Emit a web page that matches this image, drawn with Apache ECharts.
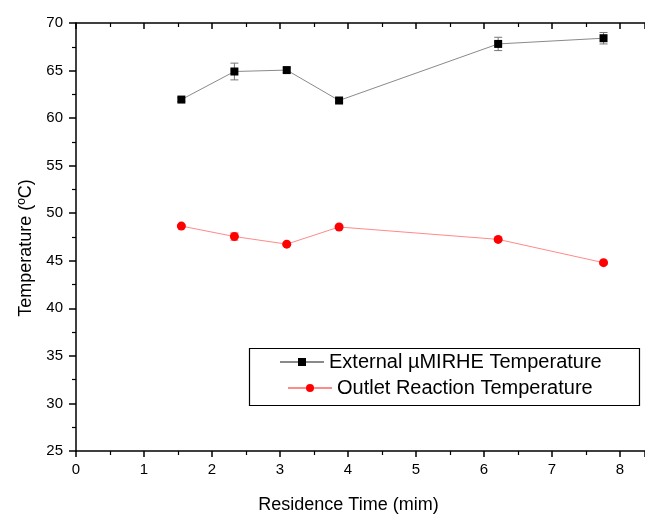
<!DOCTYPE html>
<html><head><meta charset="utf-8">
<script src="https://cdn.jsdelivr.net/npm/echarts@6/dist/echarts.min.js"></script>
<style>html,body{margin:0;padding:0;background:#fff}#c{width:645px;height:514px}</style>
</head><body><div id="c"></div>
<script>
const residenceTime = [1.55, 2.33, 3.10, 3.87, 6.21, 7.76];
const externalTemp = [61.95, 64.9, 65.05, 61.85, 67.8, 68.4];
const externalErr = [0.2, 0.88, 0.25, 0.2, 0.7, 0.6];
const outletTemp = [48.65, 47.55, 46.75, 48.55, 47.25, 44.8];
const outletErr = [0.15, 0.4, 0.15, 0.15, 0.15, 0.15];
const seriesNames = ['External µMIRHE Temperature', 'Outlet Reaction Temperature'];
const xTicks = [0, 1, 2, 3, 4, 5, 6, 7, 8];
const yTicks = [25, 30, 35, 40, 45, 50, 55, 60, 65, 70];

const FONT = 'Liberation Sans, Arial, sans-serif';
const chart = echarts.init(document.getElementById('c'), null, {renderer: 'canvas'});

function errData(xs, ys, es) {
  return xs.map((x, i) => [x, ys[i] - es[i], ys[i] + es[i]]);
}
function errRender(color) {
  return function (params, api) {
    const x = api.value(0);
    const lo = api.coord([x, api.value(1)]);
    const hi = api.coord([x, api.value(2)]);
    const w = 4;
    const st = {stroke: color, lineWidth: 1};
    return {type: 'group', children: [
      {type: 'line', shape: {x1: lo[0], y1: lo[1], x2: hi[0], y2: hi[1]}, style: st},
      {type: 'line', shape: {x1: lo[0]-w, y1: lo[1], x2: lo[0]+w, y2: lo[1]}, style: st},
      {type: 'line', shape: {x1: hi[0]-w, y1: hi[1], x2: hi[0]+w, y2: hi[1]}, style: st}
    ]};
  };
}

const axisLine = {show: true, lineStyle: {color: '#000', width: 1.5}};
chart.setOption({
  animation: false,
  backgroundColor: '#fff',
  grid: {left: 76, top: 23, right: 0, bottom: 63, containLabel: false, outerBoundsMode: 'none'},
  xAxis: [{
    type: 'value', min: 0, max: 8.37, interval: 1, position: 'bottom',
    axisLine: Object.assign({onZero: false}, axisLine),
    axisTick: {show: true, inside: false, length: 6, lineStyle: {color: '#000', width: 1.5}},
    minorTick: {show: true, splitNumber: 2, length: 4, lineStyle: {color: '#000', width: 1.2}},
    splitLine: {show: false},
    axisLabel: {margin: 11, fontFamily: FONT, fontSize: 15, color: '#000',
      formatter: v => xTicks.includes(v) ? String(v) : '', showMaxLabel: false},
    name: 'Residence Time (mim)', nameLocation: 'middle', nameGap: 45,
    nameTextStyle: {fontFamily: FONT, fontSize: 18, color: '#000', padding: [0, 24, 0, 0]}
  }, {
    type: 'value', min: 0, max: 8.37, interval: 1, position: 'top',
    axisLine: Object.assign({onZero: false}, axisLine),
    axisTick: {show: true, inside: true, length: 6, lineStyle: {color: '#000', width: 1.5}},
    minorTick: {show: true, splitNumber: 2, length: 4, lineStyle: {color: '#000', width: 1.2}},
    splitLine: {show: false}, axisLabel: {show: false}
  }],
  yAxis: [{
    type: 'value', min: 25, max: 70, interval: 5, position: 'left',
    axisLine: Object.assign({onZero: false}, axisLine),
    axisTick: {show: true, inside: false, length: 7, lineStyle: {color: '#000', width: 1.5}},
    minorTick: {show: true, splitNumber: 2, length: 4, lineStyle: {color: '#000', width: 1.2}},
    splitLine: {show: false},
    axisLabel: {margin: 13, fontFamily: FONT, fontSize: 15, color: '#000',
      formatter: v => yTicks.includes(v) ? String(v) : ''},
    name: 'Temperature (ºC)', nameLocation: 'middle', nameGap: 40,
    nameTextStyle: {fontFamily: FONT, fontSize: 18, color: '#000', padding: [0, 22, 0, 0]}
  }],
  legend: [{
    data: [seriesNames[0]], left: 279, top: 352, orient: 'vertical', padding: 0,
    itemWidth: 44, itemHeight: 10, itemGap: 6,
    textStyle: {fontFamily: FONT, fontSize: 20, color: '#000'}
  }, {
    data: [seriesNames[1]], left: 287, top: 378, orient: 'vertical', padding: 0,
    itemWidth: 44, itemHeight: 10, itemGap: 6,
    textStyle: {fontFamily: FONT, fontSize: 20, color: '#000'}
  }],
  graphic: [{
    type: 'rect', shape: {x: 249.5, y: 348.5, width: 390, height: 57},
    style: {fill: 'none', stroke: '#000', lineWidth: 1.2}, z: 100
  }],
  series: [{
    name: seriesNames[0], type: 'line',
    data: residenceTime.map((x, i) => [x, externalTemp[i]]),
    symbol: 'rect', symbolSize: 8,
    itemStyle: {color: '#000'},
    lineStyle: {color: '#8a8a8a', width: 1}, z: 3
  }, {
    name: seriesNames[1], type: 'line',
    data: residenceTime.map((x, i) => [x, outletTemp[i]]),
    symbol: 'circle', symbolSize: 9,
    itemStyle: {color: '#ff0000'},
    lineStyle: {color: '#ff8a8a', width: 1}, z: 3
  }, {
    type: 'custom', renderItem: errRender('#777'),
    data: errData(residenceTime, externalTemp, externalErr), z: 2, silent: true
  }, {
    type: 'custom', renderItem: errRender('#ff8a8a'),
    data: errData(residenceTime, outletTemp, outletErr), z: 2, silent: true
  }]
});
</script></body></html>
